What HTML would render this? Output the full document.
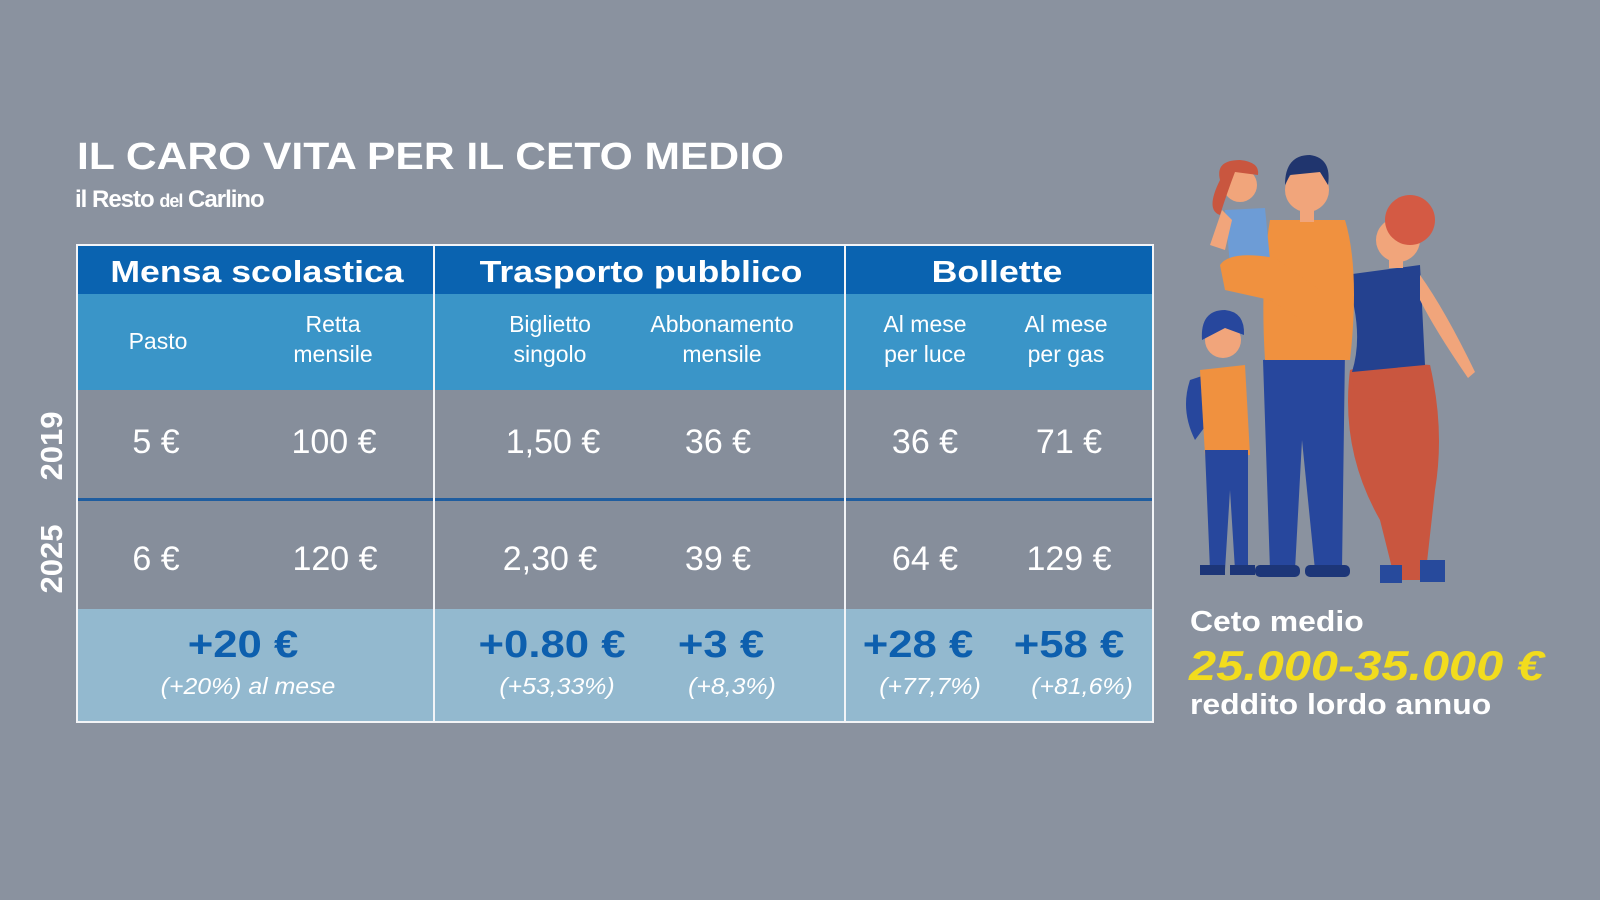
<!DOCTYPE html>
<html><head><meta charset="utf-8"><style>
*{margin:0;padding:0;box-sizing:border-box}
body{width:1600px;height:900px;background:#8a929f;font-family:"Liberation Sans",sans-serif;position:relative;overflow:hidden;color:#fff}
.a{position:absolute}
.c{position:absolute;text-align:center;transform:translateX(-50%);white-space:nowrap}
.h{font-weight:bold;font-size:31px;top:254px;transform:translateX(-50%) scaleX(1.15)}
.s{font-size:23px;line-height:30px}
.v{font-size:34px;top:423px}
.v2{top:540px}
.b{font-weight:bold;font-size:38px;color:#0d5fae;top:624px;transform:translateX(-50%) scaleX(1.15)}
.i{font-style:italic;font-size:23px;color:#fff;top:673px;transform:translateX(-50%) scaleX(1.08)}
</style></head><body>
<div class="a" style="left:77px;top:136px;font-size:38px;font-weight:bold;transform-origin:0 0;transform:scaleX(1.12)">IL CARO VITA PER IL CETO MEDIO</div>
<div class="a" style="left:75px;top:186px;font-size:24px;font-weight:bold;letter-spacing:-1px">il Resto <span style="font-size:18px">del</span> Carlino</div>

<div class="a" style="left:77px;top:245px;width:1076px;height:49px;background:#0a63b0"></div>
<div class="a" style="left:77px;top:294px;width:1076px;height:96px;background:#3a95c8"></div>
<div class="a" style="left:77px;top:390px;width:1076px;height:219px;background:#868e9b"></div>
<div class="a" style="left:77px;top:609px;width:1076px;height:113px;background:#93b9cf"></div>
<div class="a" style="left:77px;top:498px;width:1076px;height:3px;background:#1f5d9f"></div>
<div class="a" style="left:76px;top:244px;width:1078px;height:479px;border:2px solid #f2f4f7"></div>
<div class="a" style="left:433px;top:245px;width:2px;height:477px;background:#f2f4f7"></div>
<div class="a" style="left:844px;top:245px;width:2px;height:477px;background:#f2f4f7"></div>

<div class="c h" style="left:257px">Mensa scolastica</div>
<div class="c h" style="left:641px">Trasporto pubblico</div>
<div class="c h" style="left:997px">Bollette</div>

<div class="c s" style="left:158px;top:326px">Pasto</div>
<div class="c s" style="left:333px;top:309px">Retta<br>mensile</div>
<div class="c s" style="left:550px;top:309px">Biglietto<br>singolo</div>
<div class="c s" style="left:722px;top:309px">Abbonamento<br>mensile</div>
<div class="c s" style="left:925px;top:309px">Al mese<br>per luce</div>
<div class="c s" style="left:1066px;top:309px">Al mese<br>per gas</div>

<div class="c v" style="left:156px">5 €</div>
<div class="c v" style="left:334px">100 €</div>
<div class="c v" style="left:553px">1,50 €</div>
<div class="c v" style="left:718px">36 €</div>
<div class="c v" style="left:925px">36 €</div>
<div class="c v" style="left:1069px">71 €</div>
<div class="c v v2" style="left:156px">6 €</div>
<div class="c v v2" style="left:335px">120 €</div>
<div class="c v v2" style="left:550px">2,30 €</div>
<div class="c v v2" style="left:718px">39 €</div>
<div class="c v v2" style="left:925px">64 €</div>
<div class="c v v2" style="left:1069px">129 €</div>

<div class="c b" style="left:243px">+20 €</div>
<div class="c b" style="left:552px">+0.80 €</div>
<div class="c b" style="left:721px">+3 €</div>
<div class="c b" style="left:918px">+28 €</div>
<div class="c b" style="left:1069px">+58 €</div>
<div class="c i" style="left:248px">(+20%) al mese</div>
<div class="c i" style="left:557px">(+53,33%)</div>
<div class="c i" style="left:732px">(+8,3%)</div>
<div class="c i" style="left:930px">(+77,7%)</div>
<div class="c i" style="left:1082px">(+81,6%)</div>

<div class="a" style="left:52px;top:446px;transform:translate(-50%,-50%) rotate(-90deg);font-weight:bold;font-size:31px">2019</div>
<div class="a" style="left:52px;top:559px;transform:translate(-50%,-50%) rotate(-90deg);font-weight:bold;font-size:31px">2025</div>

<svg class="a" style="left:1180px;top:150px" width="330" height="440" viewBox="0 0 330 440">
<path d="M170 220 Q160 300 200 370 L215 430 L245 430 L255 340 Q265 280 250 215 Z" fill="#c9563f"/>
<path d="M170 220 Q200 210 250 215 L255 250 Q210 255 175 245 Z" fill="#c9563f"/>
<rect x="200" y="415" width="22" height="18" fill="#274a9c"/><rect x="240" y="410" width="25" height="22" fill="#274a9c"/>
<path d="M165 125 L240 115 L245 215 L172 222 Q185 180 165 125 Z" fill="#24418f"/>
<path d="M240 125 Q265 160 295 222 L288 228 Q255 180 240 150 Z" fill="#f1a57b"/>
<circle cx="218" cy="90" r="22" fill="#f1a57b"/>
<circle cx="230" cy="70" r="25" fill="#d45a44"/>
<rect x="209" y="104" width="14" height="14" fill="#f1a57b"/>
<path d="M83 210 L90 420 L115 420 L122 290 L135 420 L162 420 L165 200 Z" fill="#27479d"/>
<rect x="75" y="415" width="45" height="12" rx="5" fill="#1d3678"/><rect x="125" y="415" width="45" height="12" rx="5" fill="#1d3678"/>
<path d="M90 70 L165 70 Q180 120 170 210 L85 210 Q80 130 90 70 Z" fill="#f0913f"/>
<circle cx="127" cy="40" r="22" fill="#f1a57b"/>
<path d="M105 35 Q105 5 130 5 Q152 8 148 35 L140 22 L110 25 Z" fill="#20356e"/>
<rect x="120" y="58" width="14" height="14" fill="#f1a57b"/>
<circle cx="60" cy="35" r="17" fill="#f1a57b"/>
<path d="M40 30 Q35 10 60 10 Q80 12 78 25 L55 22 Q48 40 40 65 Q25 60 40 30 Z" fill="#c9563f"/>
<path d="M45 60 L85 58 L90 110 L50 115 Z" fill="#6d9cd6"/>
<path d="M40 115 Q50 100 95 108 L140 140 L130 175 L90 150 L45 140 Z" fill="#f0913f"/>
<path d="M42 60 L30 95 L45 100 L52 70 Z" fill="#f1a57b"/>
<path d="M10 230 Q0 260 15 290 L30 270 L25 225 Z" fill="#27479d"/>
<path d="M20 220 L65 215 L70 305 L25 305 Z" fill="#f0913f"/>
<path d="M25 300 L30 420 L45 420 L50 340 L55 420 L68 420 L68 300 Z" fill="#27479d"/>
<circle cx="43" cy="190" r="18" fill="#f1a57b"/>
<path d="M22 190 Q20 160 45 160 Q65 162 64 185 L45 178 Z" fill="#27479d"/>
<rect x="20" y="415" width="25" height="10" fill="#1d3678"/><rect x="50" y="415" width="25" height="10" fill="#1d3678"/>
</svg>

<div class="a" style="left:1190px;top:606px;font-size:29px;font-weight:bold;transform-origin:0 0;transform:scaleX(1.1)">Ceto medio</div>
<div class="a" style="left:1189px;top:642px;font-size:42px;font-weight:bold;font-style:italic;color:#f2dc1d;transform-origin:0 0;transform:scaleX(1.16)">25.000-35.000 €</div>
<div class="a" style="left:1190px;top:689px;font-size:29px;font-weight:bold;transform-origin:0 0;transform:scaleX(1.1)">reddito lordo annuo</div>
</body></html>
